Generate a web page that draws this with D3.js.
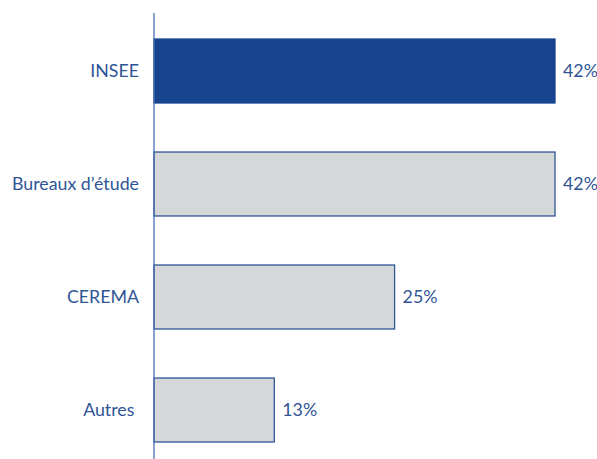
<!DOCTYPE html>
<html><head><meta charset="utf-8">
<script src="https://cdn.jsdelivr.net/npm/d3@7"></script>
<style>body{margin:0;background:#fff}svg{display:block}text{white-space:pre}</style>
</head><body>
<script>
const categories = ["INSEE", "Bureaux d’étude", "CEREMA", "Autres"];
const values = [41.67, 41.67, 25, 12.5];
const valueLabels = ["42%", "42%", "25%", "13%"];
const highlighted = ["INSEE"];

const W = 597, H = 459;
const svg = d3.select("body").append("svg").attr("width", W).attr("height", H);
const x0 = 154;
const x = d3.scaleLinear().domain([0, 41.67]).range([x0, 555]);
const y = d3.scaleBand().domain(categories).range([14.5, 466.5]).paddingInner(0.434).paddingOuter(0.217);
const font = "Lato, 'Open Sans', sans-serif";
const textCol = "#2F5597";

svg.selectAll("rect.bar").data(categories).join("rect")
  .attr("class", "bar")
  .attr("x", x(0))
  .attr("y", d => y(d))
  .attr("width", (d, i) => x(values[i]) - x(0))
  .attr("height", y.bandwidth())
  .attr("fill", d => highlighted.includes(d) ? "#16448F" : "#D6D7D9")
  .attr("stroke", d => highlighted.includes(d) ? "#16448F" : "#2F5597")
  .attr("stroke-width", 1.3);

svg.append("line").attr("x1", x0).attr("x2", x0).attr("y1", 13).attr("y2", H)
  .attr("stroke", "#4A6FB0").attr("stroke-width", 1.3);

svg.selectAll("text.cat").data(categories).join("text")
  .attr("class", "cat")
  .attr("x", 139)
  .attr("y", d => y(d) + y.bandwidth() / 2)
  .attr("dy", "0.35em")
  .attr("text-anchor", "end")
  .attr("font-family", font).attr("font-size", 17.8)
  .attr("fill", textCol)
  .text(d => d === "Autres" ? d + " " : d);

svg.selectAll("text.val").data(categories).join("text")
  .attr("class", "val")
  .attr("x", (d, i) => x(values[i]) + 8)
  .attr("y", d => y(d) + y.bandwidth() / 2)
  .attr("dy", "0.35em")
  .attr("font-family", font).attr("font-size", 17.8)
  .attr("fill", textCol)
  .text((d, i) => valueLabels[i]);
</script>
</body></html>
